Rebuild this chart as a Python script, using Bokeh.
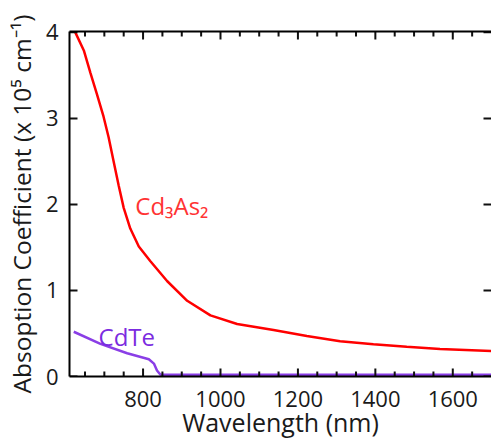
from bokeh.plotting import figure
from bokeh.models import Range1d, FixedTicker, LinearAxis, Label
from bokeh.embed import file_html
from bokeh.resources import INLINE

# ---- data ----
cd3as2_wl = [625, 647, 664, 681, 698, 711, 724, 737, 750, 767, 789, 819, 862, 914,
             974, 1043, 1090, 1137, 1223, 1309, 1395, 1481, 1567, 1700]
cd3as2_abs = [4.00, 3.79, 3.53, 3.28, 3.02, 2.78, 2.50, 2.22, 1.96, 1.72, 1.51, 1.34,
              1.11, 0.88, 0.71, 0.61, 0.575, 0.54, 0.47, 0.41, 0.375, 0.345, 0.32, 0.295]

cdte_wl = [621, 690, 759, 815, 828, 836, 845, 870, 1700]
cdte_abs = [0.52, 0.38, 0.27, 0.20, 0.15, 0.07, 0.02, 0.02, 0.02]

x_major_ticks = [800, 1000, 1200, 1400, 1600]
x_minor_ticks = [650, 700, 750, 850, 900, 950, 1050, 1100, 1150, 1250, 1300, 1350,
                 1450, 1500, 1550, 1650]
y_major_ticks = [0, 1, 2, 3, 4]

X0, X1 = 610, 1700
Y0, Y1 = 0, 4.01
FONT = "Open Sans"

W, H = 491, 441
BL, BT, BB, BR = 69, 31, 61, 0
FW, FH = W - BL - BR, H - BT - BB
PX = (X1 - X0) / FW   # data units per pixel, x
PY = (Y1 - Y0) / FH   # data units per pixel, y
NAN = float("nan")

p = figure(width=W, height=H, output_backend="svg", toolbar_location=None,
           x_range=Range1d(X0, X1), y_range=Range1d(Y0, Y1),
           min_border_left=BL, min_border_right=BR, min_border_top=BT,
           min_border_bottom=BB)
p.outline_line_color = None
p.grid.visible = False
p.background_fill_color = "white"
p.border_fill_color = "white"

# curves
p.line(cd3as2_wl, cd3as2_abs, line_color="#ff0000", line_width=2.5)
p.line(cdte_wl, cdte_abs, line_color="#8a3ee6", line_width=2.5)

# inward ticks: one broken line (NaN separated), tick lengths given in pixels
tx, ty = [], []
for t, ln in [(t, 8) for t in x_major_ticks] + [(t, 5) for t in x_minor_ticks]:
    tx += [t, t, NAN, t, t, NAN]
    ty += [Y0, Y0 + ln * PY, NAN, Y1, Y1 - ln * PY, NAN]
for t in y_major_ticks:
    tx += [X0, X0 + 8 * PX, NAN, X1, X1 - 8 * PX, NAN]
    ty += [t, t, NAN, t, t, NAN]
p.line(tx, ty, line_color="#101010", line_width=2)

def style(ax):
    ax.axis_line_color = "black"
    ax.axis_line_width = 2
    ax.major_tick_line_color = None
    ax.minor_tick_line_color = None
    ax.major_tick_in = 0
    ax.major_tick_out = 0
    ax.minor_tick_in = 0
    ax.minor_tick_out = 0
    ax.major_label_text_font = FONT
    ax.major_label_text_color = "#1a1a1a"
    ax.major_label_text_font_size = "22px"

xa = p.xaxis[0]
xa.ticker = FixedTicker(ticks=x_major_ticks, minor_ticks=[])
style(xa)
xa.major_label_standoff = 14
xa.axis_label = "Wavelength (nm)"
xa.axis_label_text_font = FONT
xa.axis_label_text_font_size = "25px"
xa.axis_label_text_font_style = "normal"
xa.axis_label_text_color = "#1a1a1a"
xa.axis_label_standoff = -5

ya = p.yaxis[0]
ya.ticker = FixedTicker(ticks=y_major_ticks, minor_ticks=[])
style(ya)
ya.major_label_standoff = 11
ya.axis_label = "Absoption Coefficient (x 10\u2075 cm\u207b\u00b9)"
ya.axis_label_text_font = FONT
ya.axis_label_text_font_size = "24.5px"
ya.axis_label_text_font_style = "normal"
ya.axis_label_text_color = "#1a1a1a"
ya.axis_label_standoff = 5

# top frame line (no ticks/labels on the axis itself)
top = LinearAxis(ticker=FixedTicker(ticks=[], minor_ticks=[]))
style(top)
p.add_layout(top, "above")

p.add_layout(Label(x=780, y=1.99, text="Cd\u2083As\u2082", text_align="left",
                   text_baseline="alphabetic", text_font=FONT, text_font_size="24px",
                   text_color="#ff3333"))
p.add_layout(Label(x=685, y=0.47, text="CdTe", text_align="left",
                   text_baseline="alphabetic", text_font=FONT, text_font_size="24px",
                   text_color="#7b2be0"))

open("out.html", "w").write(file_html(p, INLINE))
